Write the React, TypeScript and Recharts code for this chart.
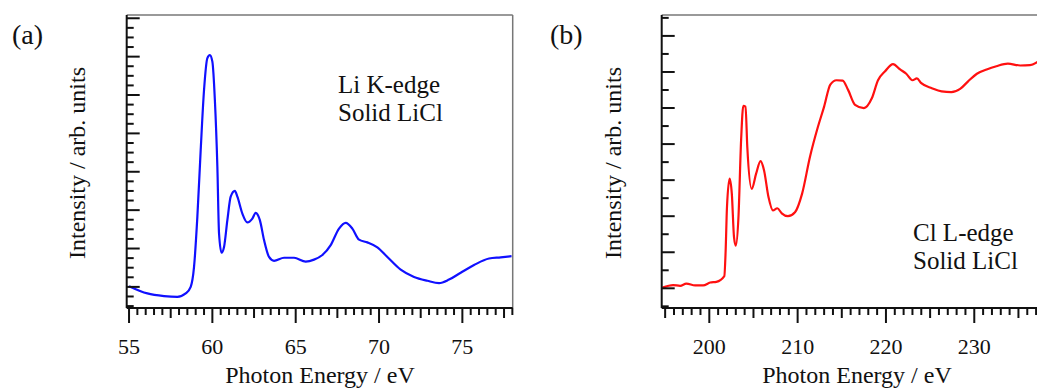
import { LineChart, Line, XAxis, YAxis, ReferenceLine } from "recharts";

// panel (a) Li K-edge, solid LiCl
const energyA = [
  55, 56.1, 57.1, 57.9, 58.4, 58.7, 58.9, 59.1, 59.3, 59.5, 59.7, 59.85, 60.0, 60.15, 60.3, 60.4, 60.55,
  60.7, 60.9, 61.1, 61.35, 61.5, 61.8, 62.1, 62.4, 62.6, 62.85, 63.1, 63.4, 63.7, 64.3, 64.9, 65.6, 66.1,
  66.6, 67.1, 67.6, 68.0, 68.4, 68.8, 69.3, 69.9, 70.5, 71.3, 72.1, 72.9, 73.6, 74.2, 74.9, 75.7, 76.6,
  77.3, 77.95,
];
const intensityA = [
  0.02, -0.17, -0.24, -0.26, -0.17, 0, 0.52, 1.83, 3.57, 5.13, 5.96, 6.04, 5.87, 4.87, 3.13, 1.39, 0.89,
  1.04, 1.74, 2.35, 2.5, 2.35, 1.91, 1.68, 1.78, 1.93, 1.74, 1.22, 0.78, 0.68, 0.76, 0.76, 0.66, 0.71,
  0.83, 1.09, 1.52, 1.67, 1.52, 1.23, 1.16, 1.03, 0.78, 0.45, 0.26, 0.16, 0.1, 0.19, 0.37, 0.57, 0.74,
  0.77, 0.8,
];

// panel (b) Cl L-edge, solid LiCl
const energyB = [
  194.7, 195.9, 196.7, 197.4, 198.4, 199.3, 200.1, 200.8, 201.7, 201.85, 202.0, 202.3, 202.55, 202.8,
  203.0, 203.3, 203.6, 203.85, 204.1, 204.3, 204.8, 205.3, 205.8, 206.2, 206.7, 207.2, 207.7, 208.2,
  208.9, 209.7, 210.5, 211.4, 212.3, 213.0, 213.7, 214.4, 215.1, 215.7, 216.5, 217.5, 218.4, 219.1,
  219.9, 220.8, 221.6, 222.3, 223.0, 223.5, 224.0, 225.2, 226.3, 227.4, 228.4, 229.3, 230.3, 231.4,
  232.5, 233.8, 235.2, 236.3, 237.3, 237.8, 238.5,
];
const intensityB = [
  0.02, 0.09, 0.07, 0.13, 0.08, 0.08, 0.16, 0.18, 0.34, 1.04, 2.25, 3.04, 2.62, 1.41, 1.18, 1.97, 4.11,
  5.06, 5.04, 3.93, 2.76, 3.18, 3.53, 3.27, 2.53, 2.16, 2.22, 2.08, 2.0, 2.11, 2.62, 3.65, 4.48, 5.04,
  5.65, 5.77, 5.76, 5.51, 5.09, 5.0, 5.27, 5.77, 6.02, 6.22, 6.07, 5.95, 5.77, 5.82, 5.69, 5.55, 5.46,
  5.44, 5.53, 5.74, 5.95, 6.07, 6.16, 6.23, 6.18, 6.19, 6.3, 6.39, 6.45,
];

const xLabelsA = [55, 60, 65, 70, 75];
const xLabelsB = [200, 210, 220, 230];

const dataA = energyA.map((e, i) => ({ e, v: intensityA[i] }));
const dataB = energyB.map((e, i) => ({ e, v: intensityB[i] }));

const ticksA: number[] = [];
for (let i = 110; i <= 156; i++) ticksA.push(i * 0.5);
const ticksB: number[] = [];
for (let i = 195; i <= 240; i++) ticksB.push(i);
const yTicksA: number[] = [];
for (let i = -2; i <= 28; i++) yTicksA.push(i * 0.25);
const yTicksB: number[] = [];
for (let i = -1; i <= 15; i++) yTicksB.push(i * 0.5);

const FONT = "'Liberation Serif', 'Times New Roman', serif";

const makeXTick = (major: number, medium: number, labels: number[]) => (props: any) => {
  const { x, y, payload } = props;
  const v = payload.value;
  const isMajor = Math.abs(v / major - Math.round(v / major)) < 1e-6;
  const isMed = Math.abs(v / medium - Math.round(v / medium)) < 1e-6;
  const len = isMajor ? 15 : isMed ? 10 : 7;
  return (
    <g>
      <line x1={x} y1={y} x2={x} y2={y + len} stroke="#111" strokeWidth={2} />
      {labels.includes(v) && (
        <text x={x} y={y + 46} textAnchor="middle" fontSize={22} fontFamily={FONT} fill="#111">
          {v}
        </text>
      )}
    </g>
  );
};

const makeYTick = (major: number) => (props: any) => {
  const { x, y, payload } = props;
  const v = payload.value;
  const isMajor = Math.abs(v / major - Math.round(v / major)) < 1e-6;
  return <line x1={x} y1={y} x2={x + (isMajor ? 13 : 7)} y2={y} stroke="#111" strokeWidth={2} />;
};

const App = () => {
  return (
    <div style={{ position: "relative", width: 1037, height: 380, overflow: "hidden", background: "#fff" }}>
      <div style={{ position: "absolute", left: 0, top: 0 }}>
        <LineChart width={520} height={380} data={dataA} margin={{ top: 7, right: 15.3, bottom: 0, left: 98.7 }}>
          <XAxis
            dataKey="e"
            type="number"
            domain={[54.86, 78.02]}
            allowDataOverflow
            ticks={ticksA}
            interval={0}
            tickLine={false}
            tickSize={0}
            tickMargin={0}
            tick={makeXTick(5, 2.5, xLabelsA)}
            axisLine={{ stroke: "#111", strokeWidth: 2 }}
            height={80}
          />
          <YAxis
            type="number"
            domain={[-0.55, 7.085]}
            allowDataOverflow
            ticks={yTicksA}
            interval={0}
            width={20}
            tickLine={false}
            tickSize={0}
            tickMargin={0}
            tick={makeYTick(1)}
            axisLine={{ stroke: "#111", strokeWidth: 2 }}
          />
          <ReferenceLine y={7.085} stroke="#777" strokeWidth={1.5} />
          <ReferenceLine x={78.02} stroke="#777" strokeWidth={1.5} />
          <Line type="monotone" dataKey="v" stroke="#1010ff" strokeWidth={2.2} dot={false} isAnimationActive={false} />
        </LineChart>
      </div>
      <div style={{ position: "absolute", left: 540, top: 0 }}>
        <LineChart width={520} height={380} data={dataB} margin={{ top: 7, right: 5.4, bottom: 0, left: 93.7 }}>
          <XAxis
            dataKey="e"
            type="number"
            domain={[194.61, 240]}
            allowDataOverflow
            ticks={ticksB}
            interval={0}
            tickLine={false}
            tickSize={0}
            tickMargin={0}
            tick={makeXTick(10, 5, xLabelsB)}
            axisLine={{ stroke: "#111", strokeWidth: 2 }}
            height={80}
          />
          <YAxis
            type="number"
            domain={[-0.546, 7.58]}
            allowDataOverflow
            ticks={yTicksB}
            interval={0}
            width={20}
            tickLine={false}
            tickSize={0}
            tickMargin={0}
            tick={makeYTick(1)}
            axisLine={{ stroke: "#111", strokeWidth: 2 }}
          />
          <ReferenceLine y={7.58} stroke="#777" strokeWidth={1.5} />
          <Line type="monotone" dataKey="v" stroke="#ff1010" strokeWidth={2.2} dot={false} isAnimationActive={false} />
        </LineChart>
      </div>
      <svg width={1037} height={380} style={{ position: "absolute", left: 0, top: 0, pointerEvents: "none" }} fontFamily={FONT} fill="#111">
        <text x={4} y={36} fontSize={28}>(a)</text>
        <text x={542} y={36} fontSize={28}>(b)</text>
        <text transform="translate(77,155) rotate(-90)" textAnchor="middle" fontSize={24}>Intensity / arb. units</text>
        <text transform="translate(613,155) rotate(-90)" textAnchor="middle" fontSize={24}>Intensity / arb. units</text>
        <text x={312} y={375} textAnchor="middle" fontSize={24}>Photon Energy / eV</text>
        <text x={849} y={375} textAnchor="middle" fontSize={24}>Photon Energy / eV</text>
        <text x={330} y={85} fontSize={25}>Li K-edge</text>
        <text x={330} y={112.7} fontSize={25}>Solid LiCl</text>
        <text x={905} y={232.7} fontSize={25}>Cl L-edge</text>
        <text x={905} y={261} fontSize={25}>Solid LiCl</text>
      </svg>
    </div>
  );
};

export default App;
